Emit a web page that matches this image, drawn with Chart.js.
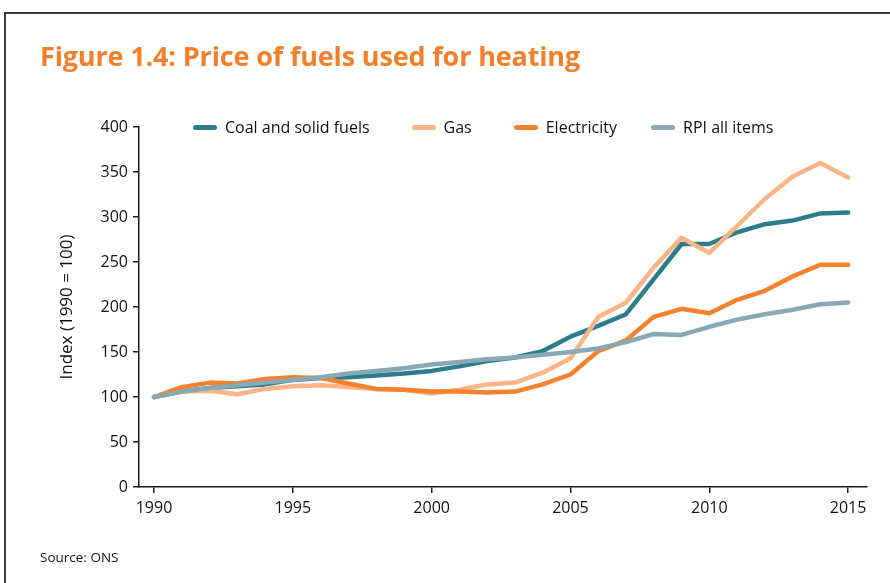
<!DOCTYPE html>
<html>
<head>
<meta charset="utf-8">
<script src="https://cdn.jsdelivr.net/npm/chart.js@4"></script>
<style>
  html, body { margin: 0; padding: 0; background: #fff; }
  body { width: 890px; height: 583px; position: relative; overflow: hidden; font-family: 'Open Sans', sans-serif; }
  .frame { position: absolute; left: 4px; top: 12px; width: 900px; height: 600px;
           border-top: 2px solid #3c3c3c; border-left: 2px solid #3c3c3c; }
  .title { position: absolute; left: 40px; top: 42px; font-size: 27px; line-height: 27px;
           font-weight: 700; color: #f47f2a; white-space: nowrap; letter-spacing: -0.15px; }
  .source { position: absolute; left: 40px; top: 548px; font-size: 13.5px; color: #111; }
  #legend { position: absolute; left: 193px; top: 116px; display: flex;
            font-size: 16px; line-height: 22px; color: #111; }
  .leg-item { display: flex; align-items: center; white-space: nowrap; margin-right: 42px; }
  .leg-item:nth-child(3) { margin-right: 34px; }
  .leg-line { width: 24px; height: 5px; border-radius: 3px; margin-right: 8px; }
  #wrap { position: absolute; left: 0; top: 0; width: 890px; height: 583px; }
</style>
</head>
<body>
<div class="frame"></div>
<div id="wrap"><canvas id="chart" width="890" height="583"></canvas></div>
<div class="title">Figure 1.4: Price of fuels used for heating</div>
<div id="legend"></div>
<div class="source">Source: ONS</div>

<script>
'use strict';

// ── Data (index, 1990 = 100) ──────────────────────────────────────────
const years = [1990, 1991, 1992, 1993, 1994, 1995, 1996, 1997, 1998, 1999,
               2000, 2001, 2002, 2003, 2004, 2005, 2006, 2007, 2008, 2009,
               2010, 2011, 2012, 2013, 2014, 2015];

const coal        = [100, 106, 110, 112, 114, 119, 121, 122, 124, 126,
                     129, 134, 140, 144, 151, 167, 179, 192, 231, 270,
                     270, 283, 292, 296, 304, 305];
const gas         = [100, 106, 107, 103, 109, 112, 113, 111, 109, 108,
                     104, 108, 114, 116, 127, 143, 189, 205, 244, 277,
                     260, 290, 320, 345, 360, 344];
const electricity = [100, 111, 116, 115, 120, 122, 121, 115, 109, 108,
                     106, 106, 105, 106, 114, 125, 151, 163, 189, 198,
                     193, 208, 218, 234, 247, 247];
const rpi         = [100, 106, 110, 113, 116, 119, 122, 126, 129, 132,
                     136, 139, 142, 144, 147, 150, 154, 161, 170, 169,
                     178, 186, 192, 197, 203, 205];

const xTicks = [1990, 1995, 2000, 2005, 2010, 2015];

const seriesNames = ['Coal and solid fuels', 'Gas', 'Electricity', 'RPI all items'];
const seriesColors = ['#2b7d8b', '#f9b487', '#f5812e', '#87a8b4'];

// ── Build datasets ────────────────────────────────────────────────────
const toPoints = arr => years.map((yr, i) => ({ x: yr, y: arr[i] }));
const seriesValues = [coal, gas, electricity, rpi];

const datasets = seriesValues.map((vals, i) => ({
  label: seriesNames[i],
  data: toPoints(vals),
  borderColor: seriesColors[i],
  backgroundColor: seriesColors[i],
  borderWidth: 4.5,
  borderCapStyle: 'round',
  borderJoinStyle: 'round',
  pointRadius: 0,
  tension: 0,
  order: seriesValues.length - i, // later series drawn on top
}));

const axisColor = '#1a1a1a';
const tickFont = { family: "'Open Sans', sans-serif", size: 16 };

new Chart(document.getElementById('chart'), {
  type: 'line',
  data: { datasets },
  options: {
    responsive: false,
    animation: false,
    layout: { padding: { left: 57, right: 23, top: 127, bottom: 0 } },
    plugins: { legend: { display: false }, tooltip: { enabled: false } },
    scales: {
      x: {
        type: 'linear',
        min: 1989.46,
        max: 2015.68,
        afterBuildTicks: scale => { scale.ticks = xTicks.map(v => ({ value: v })); },
        afterFit: scale => { scale.height = 96; },
        ticks: { color: '#111', font: tickFont, padding: 6, maxRotation: 0,
                 callback: v => String(v) },
        grid: { drawOnChartArea: false, drawTicks: true, tickLength: 6,
                color: axisColor, lineWidth: 1.5 },
        border: { display: true, color: axisColor, width: 1.5 },
      },
      y: {
        min: 0,
        max: 400,
        afterFit: scale => { scale.width = 82; },
        ticks: { stepSize: 50, color: '#111', font: tickFont, padding: 5 },
        grid: { drawOnChartArea: false, drawTicks: true, tickLength: 6,
                color: axisColor, lineWidth: 1.5 },
        border: { display: true, color: axisColor, width: 1.5 },
        title: {
          display: true,
          text: 'Index (1990 = 100)',
          color: '#111',
          font: { family: "'Open Sans', sans-serif", size: 17 },
          padding: 0,
        },
      },
    },
  },
});

// ── HTML legend, overlaid on the plot like the original ───────────────
document.getElementById('legend').innerHTML = seriesNames.map((name, i) =>
  `<div class="leg-item"><span class="leg-line" style="background:${seriesColors[i]}"></span>${name}</div>`
).join('');
</script>
</body>
</html>
